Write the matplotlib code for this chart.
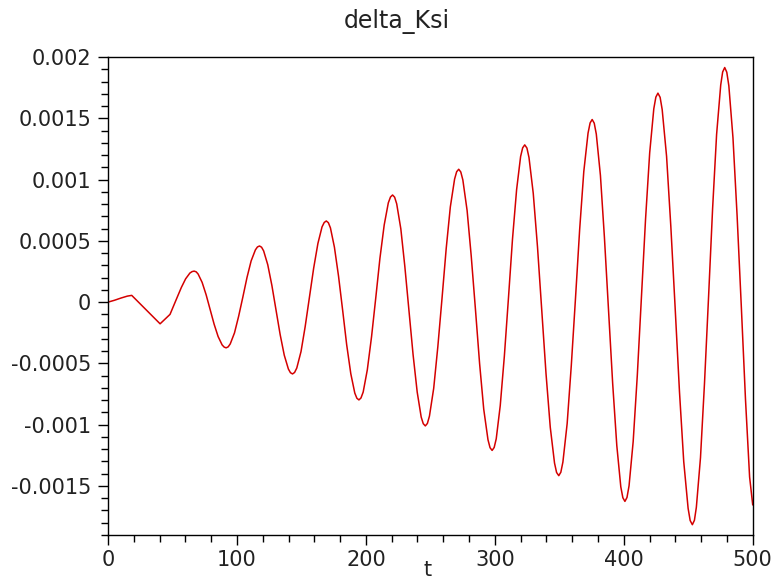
import numpy as np
import matplotlib
matplotlib.use("Agg")
import matplotlib.pyplot as plt
from matplotlib.ticker import MultipleLocator, FixedLocator, FixedFormatter

# values (delta_Ksi in units of 1e-6)
t = [0, 5, 10, 15, 18.4, 29.4, 40.4, 44.0, 48.1, 50.3, 53.6, 56.9, 60.2, 63.5, 65.2, 66.8,
     68.4, 69.9, 73.0, 76.1, 79.2, 82.3, 85.4, 88.5, 90.1, 91.6,
     93.2, 94.8, 98.1, 101.3, 104.6, 107.8, 111.0, 114.3, 115.9, 117.5,
     119.1, 120.7, 123.9, 127.1, 130.3, 133.5, 136.7, 139.9, 141.5, 143.1,
     144.7, 146.4, 149.7, 152.9, 156.2, 159.5, 162.8, 166.0, 167.7, 169.3,
     170.9, 172.5, 175.6, 178.8, 182.0, 185.1, 188.3, 191.4, 193.0, 194.6,
     196.2, 197.9, 201.1, 204.4, 207.7, 210.9, 214.2, 217.4, 219.1, 220.7,
     222.3, 223.9, 227.1, 230.2, 233.4, 236.6, 239.8, 242.9, 244.5, 246.1,
     247.7, 249.3, 252.6, 255.8, 259.1, 262.3, 265.5, 268.8, 270.4, 272.0,
     273.6, 275.2, 278.5, 281.7, 285.0, 288.2, 291.4, 294.7, 296.3, 297.9,
     299.5, 301.1, 304.2, 307.4, 310.6, 313.7, 316.9, 320.0, 321.6, 323.2,
     324.9, 326.5, 329.8, 333.1, 336.4, 339.7, 343.0, 346.3, 347.9, 349.6,
     351.2, 352.8, 356.1, 359.3, 362.6, 365.8, 369.0, 372.3, 373.9, 375.5,
     377.1, 378.7, 381.9, 385.0, 388.2, 391.4, 394.6, 397.7, 399.3, 400.9,
     402.5, 404.1, 407.3, 410.5, 413.7, 416.9, 420.1, 423.3, 424.9, 426.5,
     428.2, 429.8, 433.2, 436.5, 439.9, 443.2, 446.5, 449.9, 451.5, 453.2,
     454.8, 456.3, 459.5, 462.6, 465.8, 468.9, 472.0, 475.2, 476.7, 478.3,
     479.9, 481.5, 484.7, 487.9, 491.2, 494.4, 497.6, 500.0]

delta_ksi_micro = [0, 15, 33, 49, 55, -61, -177, -141, -100, -44, 38, 120, 190, 237, 249, 253,
                   247, 229, 161, 60, -60, -180, -281, -349, -367, -373,
                   -365, -341, -251, -116, 42, 201, 336, 426, 450, 458,
                   448, 418, 305, 136, -64, -264, -433, -546, -576, -586,
                   -574, -538, -403, -201, 38, 277, 479, 614, 650, 662,
                   648, 606, 448, 211, -68, -347, -584, -742, -784, -798,
                   -782, -734, -553, -282, 38, 358, 629, 810, 858, 874,
                   856, 802, 598, 292, -68, -428, -734, -938, -992, -1010,
                   -990, -930, -703, -364, 37, 438, 777, 1004, 1064, 1084,
                   1062, 997, 748, 376, -63, -502, -874, -1123, -1188, -1210,
                   -1186, -1115, -845, -440, 37, 513, 918, 1188, 1259, 1283,
                   1257, 1180, 888, 450, -67, -583, -1021, -1313, -1390, -1416,
                   -1388, -1305, -991, -519, 37, 593, 1065, 1379, 1462, 1490,
                   1460, 1371, 1034, 528, -68, -664, -1170, -1507, -1596, -1626,
                   -1594, -1499, -1138, -598, 40, 677, 1217, 1578, 1673, 1705,
                   1671, 1571, 1190, 618, -56, -729, -1300, -1682, -1782, -1816,
                   -1780, -1674, -1270, -665, 49, 763, 1368, 1772, 1878, 1914,
                   1876, 1765, 1341, 706, -43, -792, -1427, -1653]

xticks = [0, 100, 200, 300, 400, 500]
yticks = [0.002, 0.0015, 0.001, 0.0005, 0, -0.0005, -0.001, -0.0015]
ytick_labels = ["0.002", "0.0015", "0.001", "0.0005", "0",
                "-0.0005", "-0.001", "-0.0015"]

plt.rcParams["font.family"] = ["DejaVu Sans"]

fig = plt.figure(figsize=(7.72, 5.81), dpi=100)
ax = fig.add_axes([0.1399, 0.0792, 0.8351, 0.8227])

ax.plot(t, np.array(delta_ksi_micro) * 1e-6, color="#d40000", linewidth=1.1)

ax.set_xlim(0, 500)
ax.set_ylim(-0.0019, 0.002)

ax.xaxis.set_major_locator(FixedLocator(xticks))
ax.xaxis.set_minor_locator(MultipleLocator(20))
ax.yaxis.set_major_locator(FixedLocator(yticks))
ax.yaxis.set_major_formatter(FixedFormatter(ytick_labels))
ax.yaxis.set_minor_locator(MultipleLocator(0.0001))

ax.tick_params(which="both", direction="out", top=False, right=False,
               colors="black", labelsize=15)
ax.tick_params(which="major", length=7, width=1)
ax.tick_params(which="minor", length=5, width=1)
ax.tick_params(axis="y", pad=5, labelcolor="#222222")
ax.tick_params(axis="x", pad=4, labelcolor="#222222")

for s in ax.spines.values():
    s.set_linewidth(1.0)
    s.set_color("black")

ax.set_xlabel("t", fontsize=15, color="#222222")
ax.xaxis.set_label_coords(0.496, -0.052)

fig.text(0.514, 0.985, "delta_Ksi", ha="center", va="top", fontsize=17,
         color="#222222")

fig.savefig("out.png", dpi=100)
